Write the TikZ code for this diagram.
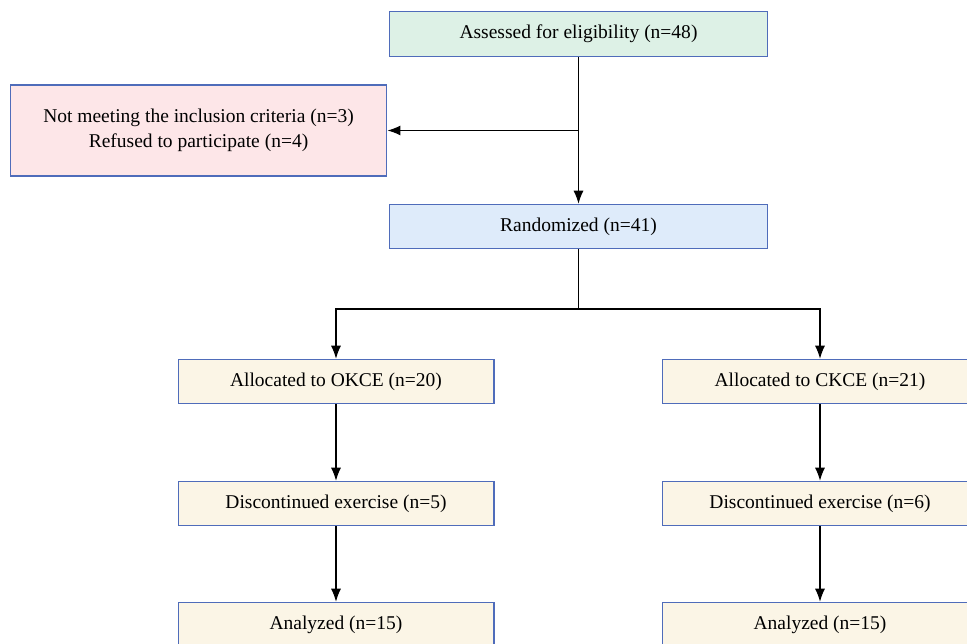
\documentclass[tikz,border=0pt]{standalone}
\usepackage{fontspec}
\setmainfont{Liberation Serif}
\usepackage{tikz}
\usetikzlibrary{calc,arrows.meta}
\tikzset{>={Latex[length=2.6mm,width=2mm]}}
\definecolor{boxline}{RGB}{79,108,186}
\definecolor{greenfill}{RGB}{221,241,230}
\definecolor{pinkfill}{RGB}{253,230,232}
\definecolor{bluefill}{RGB}{222,235,250}
\definecolor{creamfill}{RGB}{251,245,230}
\tikzset{
  flowbox/.style={draw=boxline,line width=0.6pt,minimum height=0.89cm,align=center,inner sep=2pt,font=\fontsize{11.1}{14}\selectfont},
  widebox/.style={flowbox,minimum width=7.58cm},
  armbox/.style={flowbox,fill=creamfill,minimum width=6.32cm},
}

\begin{document}
\begin{tikzpicture}[x=0.02cm,y=-0.02cm,line width=0.6pt]
      \useasboundingbox (0,0) rectangle (967,644);
      \clip (0,0) rectangle (967,644);
      \node[widebox,fill=greenfill] (assess) at (578.5,34) {Assessed for eligibility (n=48)};
      \node[widebox,fill=pinkfill,minimum width=7.54cm,minimum height=1.82cm] (excl) at (198.5,130.5) {Not meeting the inclusion criteria (n=3)\\Refused to participate (n=4)};
      \node[widebox,fill=bluefill] (rand) at (578.5,226.5) {Randomized (n=41)};
      \node[armbox] (okce) at (336,381.5) {Allocated to OKCE (n=20)};
      \node[armbox] (ckce) at (820,381.5) {Allocated to CKCE (n=21)};
      \node[armbox] (okcedisc) at (336,503.5) {Discontinued exercise (n=5)};
      \node[armbox] (ckcedisc) at (820,503.5) {Discontinued exercise (n=6)};
      \node[armbox] (okcean) at (336,624.5) {Analyzed (n=15)};
      \node[armbox] (ckcean) at (820,624.5) {Analyzed (n=15)};
      \coordinate (split) at (assess.south |- excl.east);
      \coordinate (fork) at (578.5,309);
      \draw[->] (assess.south) -- (rand.north);
      \draw[->] (split) -- (excl.east);
      \draw (rand.south) -- (fork);
      \draw[->] (fork) -| (okce.north);
      \draw[->] (fork) -| (ckce.north);
      \draw[->] (okce) -- (okcedisc);
      \draw[->] (ckce) -- (ckcedisc);
      \draw[->] (okcedisc) -- (okcean);
      \draw[->] (ckcedisc) -- (ckcean);
\end{tikzpicture}
\end{document}
